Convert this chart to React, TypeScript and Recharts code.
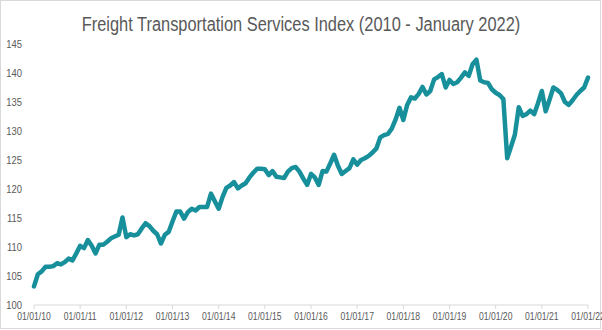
import React from 'react'
import { LineChart, Line, XAxis, YAxis } from 'recharts'

// Freight Transportation Services Index, monthly, Jan 2010 - Jan 2022
const ftsi = [
  103.2, 105.3, 105.8, 106.6, 106.6, 106.7, 107.2, 107.0, 107.4, 108.0, 107.7, 108.9,
  110.2, 109.8, 111.2, 110.2, 108.9, 110.4, 110.4, 110.9, 111.5, 111.8, 112.1, 115.1,
  111.7, 112.2, 112.0, 112.2, 113.2, 114.1, 113.6, 112.8, 112.2, 110.6, 112.1, 112.6,
  114.4, 116.1, 116.1, 114.9, 116.0, 116.6, 116.3, 116.9, 116.9, 116.9, 119.2, 117.9,
  116.6, 118.6, 120.2, 120.6, 121.2, 120.1, 120.6, 121.0, 122.0, 122.8, 123.5, 123.5,
  123.4, 122.4, 123.1, 122.1, 122.0, 121.9, 123.0, 123.6, 123.8, 123.0, 121.8, 120.7,
  122.6, 122.0, 120.7, 123.1, 123.0, 124.4, 125.9, 124.0, 122.6, 123.1, 123.6, 125.1,
  124.2, 125.0, 125.3, 125.7, 126.3, 127.0, 128.9, 129.3, 129.5, 130.4, 132.0, 134.0,
  131.9, 134.5, 135.8, 135.6, 136.4, 137.6, 136.3, 136.9, 138.9, 139.3, 139.8, 137.5,
  138.8, 138.1, 138.4, 139.2, 140.1, 139.5, 141.5, 142.3, 138.7, 138.4, 138.3, 137.2,
  136.6, 136.2, 135.5, 125.3, 127.3, 129.4, 134.1, 132.6, 132.9, 133.5, 132.9, 134.8,
  136.9, 133.4, 135.4, 137.5, 137.1, 136.5, 135.0, 134.5, 135.3, 136.2, 136.9, 137.5,
  139.2,
]

const startYear = 10
const yTicks = [100, 105, 110, 115, 120, 125, 130, 135, 140, 145]

const pad = (n: number) => String(n).padStart(2, '0')

const data = ftsi.map((value, i) => ({
  date: `${pad((i % 12) + 1)}/01/${pad(startYear + Math.floor(i / 12))}`,
  value,
}))

const FONT = '"Liberation Sans", Arial, sans-serif'
const GREY = '#595959'
// no narrow font installed, so squeeze Liberation Sans horizontally
const NARROW = 0.82

function XTick({ x, y, payload }: any) {
  return (
    <g transform={`translate(${x},${y}) scale(${NARROW},1)`}>
      <text textAnchor="middle" dy="0.71em" fill={GREY} fontSize={10.5} fontFamily={FONT}>
        {payload.value}
      </text>
    </g>
  )
}

function YTick({ x, y, payload }: any) {
  return (
    <g transform={`translate(${x},${y}) scale(${NARROW},1)`}>
      <text textAnchor="end" dy="0.355em" fill={GREY} fontSize={11.5} fontFamily={FONT}>
        {payload.value}
      </text>
    </g>
  )
}

export default function App() {
  return (
    <div
      style={{
        position: 'absolute',
        top: 0,
        left: 0,
        width: 602,
        height: 330,
        background: '#fff',
        fontFamily: FONT,
      }}
    >
      <div
        style={{
          position: 'absolute',
          top: 0,
          left: 0,
          width: 601,
          height: 329,
          boxSizing: 'border-box',
          border: '1px solid #d9d9d9',
        }}
      />
      <div
        style={{
          position: 'absolute',
          top: 12,
          left: 0,
          width: 602,
          textAlign: 'center',
          fontSize: 20,
          lineHeight: '24px',
          color: GREY,
          transform: `scaleX(${NARROW})`,
          transformOrigin: '301px 0',
        }}
      >
        Freight Transportation Services Index (2010 - January 2022)
      </div>
      <LineChart
        width={602}
        height={330}
        data={data}
        margin={{ top: 44, right: 14, bottom: 0, left: 0 }}
        style={{ position: 'absolute', top: 0, left: 0 }}
      >
        <XAxis
          dataKey="date"
          interval={11}
          height={25}
          tickSize={4}
          tickMargin={4}
          tick={<XTick />}
          tickLine={{ stroke: '#d9d9d9' }}
          axisLine={{ stroke: '#d9d9d9' }}
        />
        <YAxis
          domain={[100, 145]}
          ticks={yTicks}
          width={34}
          tickSize={0}
          tickMargin={12}
          axisLine={false}
          tickLine={false}
          tick={<YTick />}
        />
        <Line
          type="linear"
          dataKey="value"
          stroke="#17909c"
          strokeWidth={4.5}
          strokeLinejoin="round"
          strokeLinecap="round"
          dot={false}
          isAnimationActive={false}
        />
      </LineChart>
    </div>
  )
}
